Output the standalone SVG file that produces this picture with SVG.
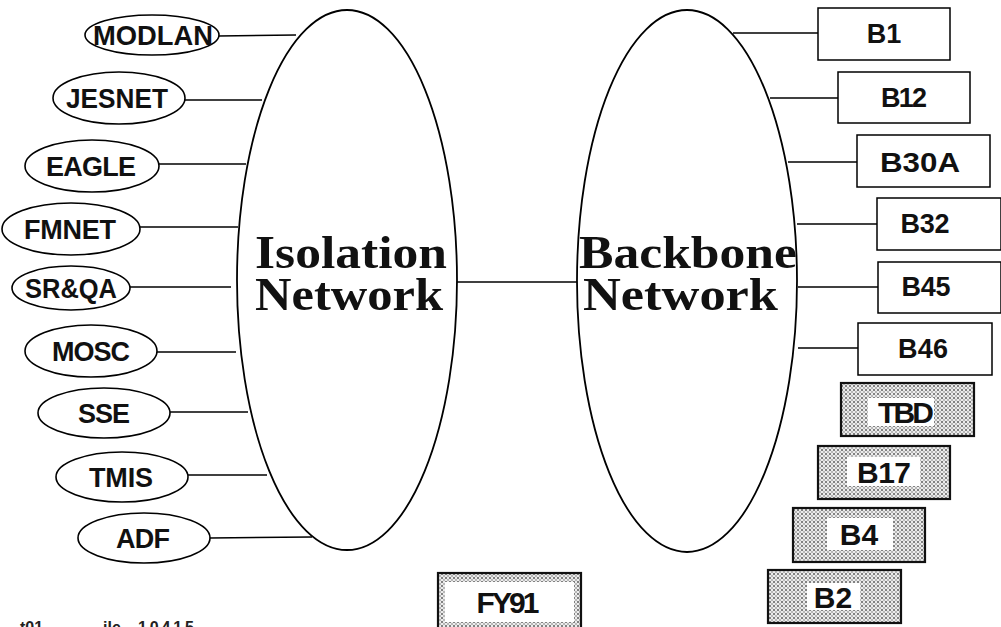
<svg xmlns="http://www.w3.org/2000/svg" width="1001" height="627" viewBox="0 0 1001 627">
<style>
.bg{fill:#fff}
.net{fill:none;stroke:#000;stroke-width:1.8}
.sub{fill:#fff;stroke:#000;stroke-width:1.6}
.box{fill:#fff;stroke:#000;stroke-width:1.5}
.hbox{fill:url(#hatch);stroke:#111;stroke-width:2.2}
.win{fill:#fff;stroke:none}
.lbl{font-family:"Liberation Sans",Arial,sans-serif;font-weight:bold;font-size:27px;fill:#111;text-anchor:middle}
.big{font-family:"Liberation Serif","Times New Roman",serif;font-weight:bold;font-size:47px;fill:#111}
.hl{font-family:"Liberation Sans",Arial,sans-serif;font-weight:bold;font-size:30px;fill:#111;text-anchor:middle}
.conn line{stroke:#000;stroke-width:1.6}
.foot{font-family:"Liberation Sans",Arial,sans-serif;font-weight:bold;font-size:16px;fill:#222}
</style>
<defs>
<pattern id="hatch" width="4" height="4" patternUnits="userSpaceOnUse">
<rect width="4" height="4" fill="#ececec"/>
<path d="M0.5,0.5 L3.5,3.5 M3.5,0.5 L0.5,3.5" stroke="#555" stroke-width="0.7"/>
</pattern>
</defs>
<rect class="bg" width="1001" height="627"/>
<g id="connectors" class="conn">
<line x1="218" y1="36" x2="296" y2="35"/>
<line x1="185" y1="100" x2="262" y2="100"/>
<line x1="158" y1="164" x2="246" y2="164"/>
<line x1="140" y1="227" x2="238" y2="227"/>
<line x1="130" y1="287" x2="231" y2="287"/>
<line x1="157" y1="352" x2="236" y2="352"/>
<line x1="170" y1="412" x2="248" y2="412"/>
<line x1="188" y1="475" x2="267" y2="475"/>
<line x1="210" y1="538" x2="312" y2="537"/>
<line x1="457" y1="282" x2="577" y2="282"/>
<line x1="733" y1="33" x2="818" y2="33"/>
<line x1="770" y1="98" x2="838" y2="98"/>
<line x1="788" y1="162" x2="857" y2="162"/>
<line x1="797" y1="224" x2="877" y2="224"/>
<line x1="798" y1="287" x2="878" y2="287"/>
<line x1="798" y1="348" x2="858" y2="348"/>
</g>
<g id="isolation">
<ellipse class="net" cx="347" cy="280" rx="110" ry="270"/>
<text class="big" x="255" y="268" textLength="192" lengthAdjust="spacingAndGlyphs">Isolation</text>
<text class="big" x="255" y="310" textLength="188" lengthAdjust="spacingAndGlyphs">Network</text>
</g>
<g id="backbone">
<ellipse class="net" cx="687" cy="281" rx="110" ry="271"/>
<text class="big" x="579" y="268" textLength="218" lengthAdjust="spacingAndGlyphs">Backbone</text>
<text class="big" x="583" y="310" textLength="195" lengthAdjust="spacingAndGlyphs">Network</text>
</g>
<g id="MODLAN"><ellipse class="sub" cx="152" cy="35" rx="67" ry="20"/><text class="lbl" x="153" y="45" textLength="120" lengthAdjust="spacingAndGlyphs">MODLAN</text></g>
<g id="JESNET"><ellipse class="sub" cx="119" cy="98" rx="66" ry="26"/><text class="lbl" x="117" y="108" textLength="102" lengthAdjust="spacingAndGlyphs">JESNET</text></g>
<g id="EAGLE"><ellipse class="sub" cx="92" cy="166" rx="67" ry="26"/><text class="lbl" x="91" y="176" textLength="90" lengthAdjust="spacing">EAGLE</text></g>
<g id="FMNET"><ellipse class="sub" cx="71" cy="229" rx="69" ry="26"/><text class="lbl" x="70" y="239" textLength="92" lengthAdjust="spacing">FMNET</text></g>
<g id="SRQA"><ellipse class="sub" cx="71" cy="288" rx="59" ry="22"/><text class="lbl" x="71" y="298" textLength="92" lengthAdjust="spacingAndGlyphs">SR&amp;QA</text></g>
<g id="MOSC"><ellipse class="sub" cx="91" cy="351" rx="66" ry="26"/><text class="lbl" x="91" y="361" textLength="78" lengthAdjust="spacing">MOSC</text></g>
<g id="SSE"><ellipse class="sub" cx="104" cy="413" rx="66" ry="25"/><text class="lbl" x="104" y="423" textLength="52" lengthAdjust="spacing">SSE</text></g>
<g id="TMIS"><ellipse class="sub" cx="122" cy="477" rx="66" ry="25"/><text class="lbl" x="121" y="487" textLength="64" lengthAdjust="spacing">TMIS</text></g>
<g id="ADF"><ellipse class="sub" cx="144" cy="538" rx="66" ry="25"/><text class="lbl" x="143" y="548" textLength="54" lengthAdjust="spacing">ADF</text></g>
<g id="B1"><rect class="box" x="818" y="8" width="132" height="52"/><text class="lbl" x="884" y="43">B1</text></g>
<g id="B12"><rect class="box" x="838" y="72" width="132" height="51"/><text class="lbl" x="904" y="107" textLength="46" lengthAdjust="spacing">B12</text></g>
<g id="B30A"><rect class="box" x="857" y="135" width="133" height="52"/><text class="lbl" x="920" y="172" textLength="80" lengthAdjust="spacingAndGlyphs">B30A</text></g>
<g id="B32"><rect class="box" x="877" y="198" width="124" height="52"/><text class="lbl" x="925" y="233" textLength="49" lengthAdjust="spacing">B32</text></g>
<g id="B45"><rect class="box" x="878" y="262" width="123" height="51"/><text class="lbl" x="926" y="296" textLength="49" lengthAdjust="spacing">B45</text></g>
<g id="B46"><rect class="box" x="858" y="323" width="134" height="52"/><text class="lbl" x="923" y="358" textLength="50" lengthAdjust="spacing">B46</text></g>
<g id="TBD"><rect class="hbox" x="841" y="383" width="133" height="53"/><rect class="win" x="868" y="398" width="66" height="28"/><text class="hl" x="906" y="423" textLength="56" lengthAdjust="spacing">TBD</text></g>
<g id="B17"><rect class="hbox" x="818" y="446" width="132" height="53"/><rect class="win" x="847" y="457" width="73" height="29"/><text class="hl" x="884" y="483" textLength="54" lengthAdjust="spacing">B17</text></g>
<g id="B4"><rect class="hbox" x="793" y="508" width="132" height="54"/><rect class="win" x="827" y="518" width="66" height="32"/><text class="hl" x="859" y="545">B4</text></g>
<g id="B2"><rect class="hbox" x="768" y="570" width="133" height="53"/><rect class="win" x="807" y="583" width="53" height="27"/><text class="hl" x="833" y="608">B2</text></g>
<g id="FY91"><rect class="hbox" x="438" y="573" width="143" height="60"/><rect class="win" x="445" y="582" width="129" height="40"/><text class="hl" x="508" y="613" font-size="27" textLength="63" lengthAdjust="spacing">FY91</text></g>
<text class="foot" x="20" y="633">t01</text>
<text class="foot" x="103" y="633">ile</text>
<text class="foot" x="138" y="633" textLength="56" lengthAdjust="spacing">10415</text>
</svg>
